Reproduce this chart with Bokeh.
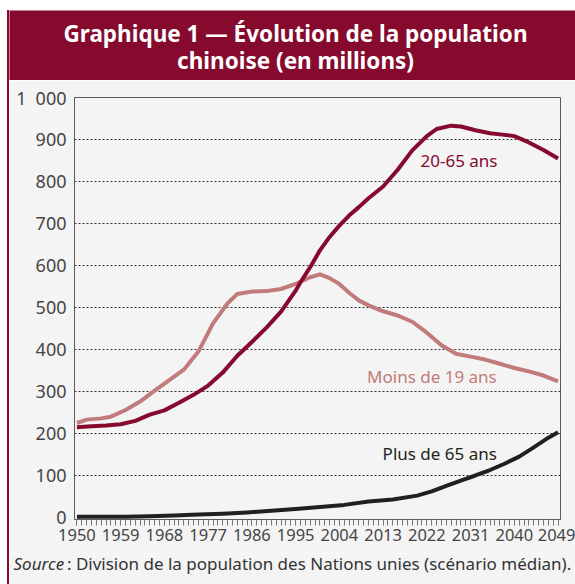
from bokeh.plotting import figure
from bokeh.models import Range1d, FixedTicker, Label
from bokeh.layouts import column, row
from bokeh.embed import file_html
from bokeh.resources import INLINE
from bokeh.core.properties import value

# ---- data (millions) ----
years_2065 = [1950, 1953, 1956, 1959, 1962, 1965, 1968, 1971, 1974, 1977, 1980, 1983,
              1986, 1989, 1992, 1995, 1996, 1998, 2000, 2002, 2004, 2006, 2008, 2010,
              2013, 2016, 2019, 2022, 2024, 2027, 2029, 2032, 2035, 2038, 2040, 2043,
              2046, 2049]
pop_2065 = [215, 217, 219, 222, 230, 245, 255, 273, 292, 314, 345, 385,
            418, 452, 490, 540, 560, 596, 636, 668, 695, 719, 739, 760,
            788, 828, 874, 908, 925, 933, 931, 922, 915, 911, 908, 893,
            875, 855]

years_m19 = [1950, 1952, 1955, 1957, 1960, 1963, 1966, 1969, 1972, 1975, 1978, 1981,
             1983, 1986, 1989, 1992, 1995, 1998, 2000, 2002, 2004, 2006, 2008, 2010,
             2013, 2016, 2019, 2022, 2025, 2028, 2031, 2034, 2037, 2040, 2043, 2046,
             2049]
pop_m19 = [225, 233, 236, 240, 256, 276, 302, 327, 352, 395, 462, 510,
           532, 538, 539, 544, 556, 572, 579, 570, 556, 535, 517, 505,
           491, 481, 466, 440, 410, 390, 383, 376, 366, 356, 348, 338,
           324]

years_p65 = [1950, 1955, 1960, 1965, 1970, 1975, 1980, 1985, 1990, 1995, 2000, 2005,
             2010, 2015, 2020, 2023, 2026, 2029, 2032, 2035, 2038, 2041, 2044, 2047,
             2049]
pop_p65 = [2, 2, 2, 3, 5, 7, 9, 12, 16, 20, 25, 30,
           38, 43, 52, 62, 75, 88, 100, 113, 128, 145, 167, 190,
           203]

x_label_years = list(range(1950, 2050, 9))
x_minor_years = list(range(1950, 2050))
y_ticks = list(range(0, 1001, 100))
y_top_label = "1\u2002000"

title_lines = ["Graphique 1 — Évolution de la population", "chinoise (en millions)"]
series_names = ["20-65 ans", "Moins de 19 ans", "Plus de 65 ans"]
source_lead = "Source"
source_rest = "\u00a0: Division de la population des Nations unies (scénario médian)."

# ---- styles ----
DARK_RED = "#850A2E"
ROSE = "#C27B7B"
BLACK = "#231F20"
BG = "#F4F4F4"
AXIS = "#5A5A5A"
TEXT = "#454545"
FONT = "Noto Sans"

W = 566
HEAD_H = 70
MAIN_H = 473
FOOT_H = 31

# ---- header band ----
head = figure(width=W, height=HEAD_H, x_range=Range1d(0, W), y_range=Range1d(0, HEAD_H),
              toolbar_location=None, output_backend="svg",
              x_axis_location=None, y_axis_location=None, min_border=0,
              background_fill_color=DARK_RED, border_fill_color=DARK_RED,
              outline_line_color=None)
head.xgrid.visible = False
head.ygrid.visible = False
head.text(x=[286, 286], y=[47, 20], text=title_lines, text_color="white",
          text_font=value(FONT), text_font_style="bold", text_font_size="22.5px",
          text_align="center", text_baseline="middle")

# ---- main chart ----
p = figure(width=W, height=MAIN_H, x_range=Range1d(1949.5, 2049.5), y_range=Range1d(-4.8, 1000),
           toolbar_location=None, output_backend="svg",
           min_border_left=65, min_border_right=15, min_border_top=17, min_border_bottom=34,
           background_fill_color=BG, border_fill_color=BG,
           outline_line_color=AXIS, outline_line_width=1)

p.xaxis.ticker = FixedTicker(ticks=x_label_years, minor_ticks=x_minor_years)
p.xaxis.major_tick_out = 6
p.xaxis.major_tick_in = 0
p.xaxis.minor_tick_out = 6
p.xaxis.minor_tick_in = 0
p.xaxis.major_tick_line_color = "#777777"
p.xaxis.minor_tick_line_color = "#777777"
p.xaxis.axis_line_color = AXIS
p.xaxis.major_label_text_font_size = "16.5px"
p.xaxis.major_label_text_font = FONT
p.xaxis.major_label_text_color = TEXT
p.xaxis.major_label_standoff = 3

p.yaxis.ticker = FixedTicker(ticks=y_ticks)
p.yaxis.major_label_overrides = {1000: y_top_label}
p.yaxis.major_tick_out = 0
p.yaxis.major_tick_in = 0
p.yaxis.minor_tick_line_color = None
p.yaxis.axis_line_color = AXIS
p.yaxis.major_label_text_font_size = "18px"
p.yaxis.major_label_text_font = FONT
p.yaxis.major_label_text_color = TEXT
p.yaxis.major_label_standoff = 8

p.xgrid.visible = False
p.ygrid.ticker = FixedTicker(ticks=y_ticks[1:-1])
p.ygrid.grid_line_color = "#333333"
p.ygrid.grid_line_dash = "2 2"
p.ygrid.grid_line_width = 1

p.line(years_m19, pop_m19, line_color=ROSE, line_width=4, line_join="round")
p.line(years_2065, pop_2065, line_color=DARK_RED, line_width=4, line_join="round")
p.line(years_p65, pop_p65, line_color=BLACK, line_width=4, line_join="round")

p.add_layout(Label(x=2020.7, y=850, text=series_names[0], text_color=DARK_RED,
                   text_font=FONT, text_font_size="17px", text_baseline="middle"))
p.add_layout(Label(x=2009.7, y=336, text=series_names[1], text_color=ROSE,
                   text_font=FONT, text_font_size="17px", text_baseline="middle"))
p.add_layout(Label(x=2012.9, y=152, text=series_names[2], text_color=BLACK,
                   text_font=FONT, text_font_size="17px", text_baseline="middle"))

# ---- footer (source) ----
foot = figure(width=W, height=FOOT_H, x_range=Range1d(0, W), y_range=Range1d(0, FOOT_H),
              toolbar_location=None, output_backend="svg",
              x_axis_location=None, y_axis_location=None, min_border=0,
              background_fill_color=BG, border_fill_color=BG,
              outline_line_color=None)
foot.xgrid.visible = False
foot.ygrid.visible = False
foot.text(x=[4], y=[21], text=[source_lead], text_color="#333333",
          text_font=value(FONT), text_font_style="italic", text_font_size="17px",
          text_align="left", text_baseline="middle")
foot.text(x=[53], y=[21], text=[source_rest], text_color="#333333",
          text_font=value(FONT), text_font_size="17px",
          text_align="left", text_baseline="middle")

layout = column(row(head), row(p), row(foot), spacing=0,
                styles={"border-left": f"2px solid {DARK_RED}",
                        "margin-left": "7px", "margin-top": "10px"})

open("out.html", "w").write(file_html(layout, INLINE))
